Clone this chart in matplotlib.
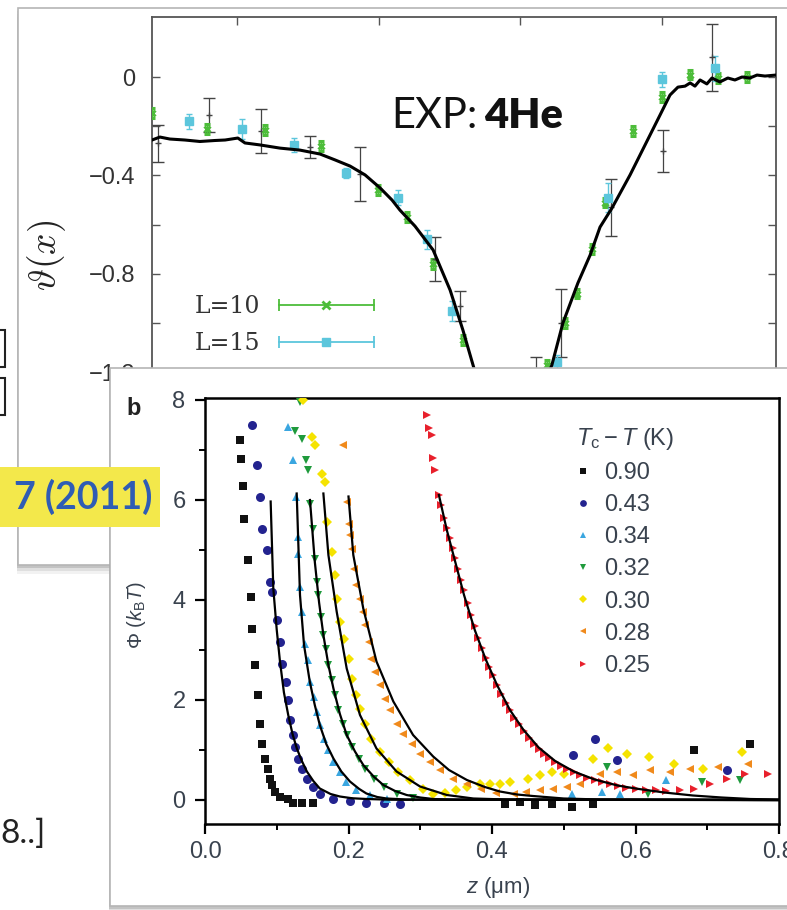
import matplotlib
matplotlib.use("Agg")
import matplotlib.pyplot as plt
from matplotlib.patches import Rectangle
from matplotlib.lines import Line2D
from matplotlib.legend_handler import HandlerLine2D

W, H = 787, 910

# ---------------- top panel: scaling function theta(x) ----------------
curve_x = [-13.0, -12.72, -12.37, -11.84, -11.31, -10.78, -10.42, -9.97, -9.72, -9.19,
           -8.48, -7.78, -7.07, -6.54, -6.01, -5.48, -4.95, -4.53, -4.25, -3.72,
           -3.08, -2.48, -2.03, -1.60, -1.0, 0.3, 0.87, 1.11, 1.50, 2.03,
           2.46, 2.81, 3.23, 3.87, 4.40, 4.93, 5.28, 5.56, 5.81, 5.99,
           6.16, 6.34, 6.58, 6.76, 7.04, 7.32, 7.57, 7.82, 8.10, 8.35, 8.63, 9.02]
curve_y = [-0.256, -0.244, -0.252, -0.256, -0.262, -0.258, -0.256, -0.248, -0.268, -0.276,
           -0.289, -0.297, -0.313, -0.337, -0.362, -0.398, -0.451, -0.500, -0.541, -0.606,
           -0.703, -0.866, -1.028, -1.199, -1.40, -1.40, -1.240, -1.171, -1.0, -0.837,
           -0.724, -0.610, -0.533, -0.398, -0.276, -0.154, -0.073, -0.041, -0.037, -0.024,
           -0.037, -0.012, -0.028, -0.004, -0.020, -0.004, -0.012, 0.0, -0.004, 0.008, 0.004, 0.008]

l10_x = [-13.0, -11.06, -9.01, -7.04, -5.03, -4.0, -3.08, -2.03, 0.94, 1.57,
         2.0, 2.53, 2.98, 3.97, 5.0, 5.98, 6.97, 8.0]
l10_y = [-0.146, -0.21, -0.215, -0.28, -0.46, -0.57, -0.76, -1.07, -1.17, -1.0,
         -0.88, -0.70, -0.51, -0.22, -0.08, 0.01, -0.005, 0.0]
l10_e = [0.02] * len(l10_x)

l15_x = [-11.69, -9.82, -7.99, -6.15, -4.32, -3.30, -2.41, 1.29, 3.09, 5.0, 6.87]
l15_y = [-0.18, -0.21, -0.276, -0.39, -0.49, -0.66, -0.95, -1.16, -0.49, -0.01, 0.035]
l15_e = [0.03, 0.04, 0.03, 0.02, 0.03, 0.04, 0.04, 0.03, 0.06, 0.03, 0.05]

l20_x = [-12.79, -10.99, -9.15, -7.42, -5.66, -3.01, -2.13, 0.55, 1.43, 3.20, 5.03, 6.76]
l20_y = [-0.27, -0.155, -0.22, -0.285, -0.395, -0.74, -0.93, -1.20, -1.0, -0.53, -0.30, 0.08]
l20_e = [0.075, 0.07, 0.09, 0.045, 0.11, 0.09, 0.06, 0.06, 0.14, 0.115, 0.085, 0.135]

# ---------------- bottom panel: Casimir potential ----------------
labels_b = ["0.90", "0.43", "0.34", "0.32", "0.30", "0.28", "0.25"]
colors_b = ["#111111", "#23238f", "#3aa6e0", "#1f9a3c", "#f5e300", "#f08a1c", "#e8202c"]
markers_b = ["s", "o", "^", "v", "D", "<", ">"]

z090 = [0.049, 0.050, 0.053, 0.055, 0.060, 0.064, 0.065, 0.070, 0.074, 0.077, 0.079, 0.084,
        0.088, 0.091, 0.093, 0.098, 0.105, 0.116, 0.122, 0.135, 0.150, 0.418, 0.439, 0.460,
        0.483, 0.511, 0.541, 0.681, 0.760]
p090 = [7.2, 6.83, 6.29, 5.63, 4.8, 4.07, 3.43, 2.71, 2.1, 1.53, 1.13, 0.83,
        0.63, 0.43, 0.3, 0.17, 0.07, 0.03, -0.06, -0.06, -0.05, -0.07, -0.03, -0.1,
        -0.07, -0.13, -0.07, 1.01, 1.12]

z043 = [0.066, 0.073, 0.076, 0.080, 0.087, 0.091, 0.094, 0.100, 0.105, 0.107, 0.113, 0.115,
        0.119, 0.122, 0.125, 0.130, 0.135, 0.142, 0.151, 0.160, 0.179, 0.202, 0.225, 0.249,
        0.272, 0.513, 0.544, 0.574, 0.727]
p043 = [7.5, 6.7, 6.07, 5.43, 5.0, 4.37, 4.17, 3.6, 3.17, 2.73, 2.37, 2.0,
        1.6, 1.3, 1.07, 0.83, 0.63, 0.43, 0.27, 0.13, 0.03, -0.02, -0.05, -0.05,
        -0.07, 0.9, 1.23, 0.8, 0.6]

z034 = [0.115, 0.122, 0.127, 0.129, 0.130, 0.132, 0.135, 0.139, 0.143, 0.147, 0.152, 0.156,
        0.160, 0.166, 0.172, 0.179, 0.188, 0.197, 0.211, 0.230, 0.253, 0.511, 0.553, 0.578, 0.643]
p034 = [7.47, 6.8, 6.07, 5.27, 4.93, 4.27, 3.77, 3.13, 2.8, 2.37, 2.07, 1.77,
        1.5, 1.23, 1.0, 0.77, 0.57, 0.37, 0.2, 0.1, 0.03, 0.13, 0.17, 0.13, 0.4]

z032 = [0.132, 0.125, 0.135, 0.141, 0.144, 0.146, 0.151, 0.153, 0.156, 0.158, 0.161, 0.165,
        0.169, 0.172, 0.177, 0.181, 0.186, 0.192, 0.198, 0.205, 0.214, 0.223, 0.235, 0.249,
        0.267, 0.290, 0.560, 0.618, 0.692, 0.746]
p032 = [7.97, 7.38, 7.23, 6.8, 6.6, 5.93, 5.43, 4.83, 4.37, 4.1, 3.67, 3.3,
        3.03, 2.7, 2.4, 2.1, 1.8, 1.53, 1.3, 1.07, 0.83, 0.63, 0.43, 0.27,
        0.13, 0.05, 0.67, 0.13, 0.37, 0.4]

z030 = [0.137, 0.149, 0.153, 0.163, 0.167, 0.170, 0.177, 0.181, 0.184, 0.188, 0.194, 0.200,
        0.205, 0.210, 0.216, 0.223, 0.232, 0.244, 0.256, 0.269, 0.286, 0.304, 0.318, 0.335,
        0.350, 0.365, 0.383, 0.397, 0.411, 0.425, 0.450, 0.467, 0.483, 0.500, 0.541, 0.562,
        0.588, 0.619, 0.653, 0.694, 0.748]
p030 = [8.0, 7.27, 7.1, 6.53, 6.37, 5.57, 4.97, 4.5, 4.03, 3.57, 3.23, 2.83,
        2.43, 2.1, 1.83, 1.53, 1.23, 0.97, 0.77, 0.57, 0.4, 0.23, 0.13, 0.15,
        0.2, 0.27, 0.33, 0.33, 0.33, 0.37, 0.43, 0.5, 0.57, 0.53, 0.83, 1.05,
        0.93, 0.87, 0.73, 0.63, 0.97]

z028 = [0.193, 0.198, 0.200, 0.202, 0.205, 0.208, 0.211, 0.216, 0.220, 0.223, 0.228, 0.232,
        0.237, 0.244, 0.251, 0.258, 0.267, 0.276, 0.288, 0.300, 0.314, 0.328, 0.346, 0.365,
        0.385, 0.405, 0.430, 0.448, 0.467, 0.485, 0.504, 0.523, 0.550, 0.574, 0.597, 0.620,
        0.648, 0.676, 0.715, 0.757]
p028 = [7.1, 5.97, 5.53, 5.3, 5.03, 4.63, 4.3, 4.03, 3.77, 3.5, 3.17, 2.83,
        2.57, 2.3, 2.03, 1.8, 1.53, 1.33, 1.13, 0.93, 0.77, 0.6, 0.43, 0.32,
        0.22, 0.15, 0.13, 0.17, 0.2, 0.23, 0.27, 0.33, 0.53, 0.57, 0.5, 0.6,
        0.57, 0.63, 0.67, 0.72]

z025 = [0.309, 0.312, 0.317, 0.318, 0.321, 0.326, 0.329, 0.333, 0.337, 0.341, 0.345, 0.349,
        0.353, 0.357, 0.361, 0.366, 0.371, 0.376, 0.381, 0.386, 0.391, 0.396, 0.401, 0.407,
        0.413, 0.419, 0.425, 0.431, 0.437, 0.444, 0.451, 0.458, 0.465, 0.472, 0.480, 0.488,
        0.496, 0.505, 0.514, 0.523, 0.533, 0.543, 0.553, 0.564, 0.575, 0.587, 0.600, 0.614,
        0.628, 0.643, 0.662, 0.681, 0.704, 0.727, 0.753, 0.785]
p025 = [7.7, 7.45, 7.3, 6.85, 6.6, 6.1, 5.9, 5.65, 5.45, 5.25, 5.05, 4.85,
        4.62, 4.4, 4.2, 3.95, 3.7, 3.48, 3.25, 3.05, 2.85, 2.67, 2.5, 2.3,
        2.12, 1.95, 1.8, 1.65, 1.52, 1.38, 1.25, 1.13, 1.02, 0.93, 0.84, 0.76,
        0.69, 0.62, 0.56, 0.5, 0.45, 0.4, 0.36, 0.32, 0.28, 0.25, 0.23, 0.21,
        0.2, 0.19, 0.2, 0.23, 0.32, 0.43, 0.52, 0.52]

series_z = [z090, z043, z034, z032, z030, z028, z025]
series_p = [p090, p043, p034, p032, p030, p028, p025]

# fitted curves (black lines)
fit_z = [
    [0.0915, 0.0952, 0.100, 0.1045, 0.110, 0.116, 0.122, 0.128, 0.135, 0.142, 0.151, 0.160,
     0.175, 0.188, 0.205, 0.225, 0.26, 0.8],
    [0.1278, 0.1324, 0.138, 0.146, 0.153, 0.160, 0.169, 0.179, 0.190, 0.202, 0.215, 0.225,
     0.240, 0.253, 0.28, 0.8],
    [0.1463, 0.153, 0.159, 0.165, 0.172, 0.179, 0.188, 0.1975, 0.209, 0.2206, 0.235, 0.2485,
     0.265, 0.281, 0.30, 0.318, 0.35, 0.8],
    [0.165, 0.172, 0.1835, 0.1975, 0.216, 0.239, 0.267, 0.2997, 0.337, 0.374, 0.42, 0.8],
    [0.200, 0.2067, 0.2206, 0.239, 0.2625, 0.29, 0.318, 0.34, 0.365, 0.39, 0.411, 0.435,
     0.457, 0.50, 0.55, 0.8],
    [0.326, 0.337, 0.349, 0.361, 0.376, 0.391, 0.407, 0.425, 0.444, 0.465, 0.488, 0.514,
     0.543, 0.575, 0.60, 0.64, 0.68, 0.72, 0.76, 0.80],
]
fit_p = [
    [5.97, 4.23, 3.4, 2.77, 2.15, 1.7, 1.32, 1.03, 0.78, 0.57, 0.38, 0.23,
     0.12, 0.07, 0.035, 0.02, 0.005, 0.0],
    [6.13, 4.1, 3.1, 2.37, 1.9, 1.5, 1.12, 0.83, 0.57, 0.37, 0.22, 0.13,
     0.06, 0.03, 0.01, 0.0],
    [6.0, 4.77, 3.95, 3.3, 2.7, 2.23, 1.72, 1.3, 0.97, 0.7, 0.47, 0.3,
     0.18, 0.1, 0.05, 0.02, 0.005, 0.0],
    [6.13, 4.9, 3.77, 2.63, 1.7, 1.03, 0.57, 0.27, 0.1, 0.03, 0.01, 0.0],
    [6.07, 4.9, 3.83, 2.77, 1.97, 1.3, 0.87, 0.6, 0.4, 0.26, 0.17, 0.11,
     0.08, 0.03, 0.01, 0.0],
    [6.1, 5.4, 4.75, 4.1, 3.4, 2.82, 2.3, 1.8, 1.4, 1.05, 0.78, 0.57,
     0.41, 0.29, 0.23, 0.15, 0.09, 0.05, 0.02, 0.01],
]


def fbox(l, t, r, b):
    return [l / W, 1 - b / H, (r - l) / W, (b - t) / H]


def fxy(x, y):
    return x / W, 1 - y / H


plt.rcParams["font.family"] = ["Liberation Sans", "DejaVu Sans"]
plt.rcParams["mathtext.fontset"] = "custom"
plt.rcParams["mathtext.rm"] = "Liberation Sans"
plt.rcParams["mathtext.it"] = "Liberation Sans:italic"
plt.rcParams["mathtext.bf"] = "Liberation Sans:bold"

fig = plt.figure(figsize=(W / 100, H / 100), dpi=100, facecolor="white")


def card(l, t, r, b, z):
    for off, a in [(9, 0.05), (6, 0.08), (3, 0.12)]:
        x0, y0 = fxy(l - 1, b + off)
        fig.add_artist(Rectangle((x0, y0), (r - l + 2) / W, (b - t) / H,
                                 transform=fig.transFigure, facecolor="black",
                                 alpha=a, lw=0, zorder=z - 0.05))
    x0, y0 = fxy(l, b)
    fig.add_artist(Rectangle((x0, y0), (r - l) / W, (b - t) / H,
                             transform=fig.transFigure, facecolor="white",
                             edgecolor="#b5b5b5", lw=1.2, zorder=z))


# ---------------- top card ----------------
card(18, 8, 830, 565, 0.6)

ax1 = fig.add_axes(fbox(152, 17, 776, 419), zorder=1)
ax1.patch.set_visible(False)
green, cyan = "#4dbd3a", "#5cc6dc"
ax1.plot(curve_x, curve_y, color="black", lw=2.2, zorder=4)
ax1.errorbar(l20_x, l20_y, yerr=l20_e, fmt="+", color="#444444", ms=5, mew=1,
             elinewidth=0.9, capsize=4, zorder=3)
ax1.errorbar(l10_x, l10_y, yerr=l10_e, fmt="x", color=green, ms=5, mew=2.2,
             elinewidth=1, capsize=2, zorder=3)
ax1.errorbar(l15_x, l15_y, yerr=l15_e, fmt="s", color=cyan, ms=6,
             elinewidth=1, capsize=2, zorder=3)
ax1.set_xlim(-13, 9.02)
ax1.set_ylim(-1.39, 0.244)
ax1.set_xticks([-10, -5, 0, 5])
ax1.set_yticks([0, -0.4, -0.8, -1.2])
ax1.set_yticklabels(["0", "\u22120.4", "\u22120.8", "\u22121.2"])
ax1.set_yticks([-0.2, -0.6, -1.0], minor=True)
ax1.tick_params(which="both", direction="in", top=True, right=True, length=6,
                width=1, color="#555555", labelsize=17, labelcolor="#333333",
                pad=12, labelbottom=False)
for s in ax1.spines.values():
    s.set_color("#555555")
    s.set_linewidth(1.3)

cap_h, mk_h = [], []
for c, m in [(green, "x"), (cyan, "s"), ("#444444", "+")]:
    cap_h.append(Line2D([], [], color=c, lw=1.3, marker="|", ms=9, mew=1.3))
    mk_h.append(Line2D([], [], color=c, marker=m, ls="none", ms=6,
                       mew=2 if m == "x" else 1))
hmap = {}
for a, b in zip(cap_h, mk_h):
    hmap[a] = HandlerLine2D(numpoints=2, marker_pad=0)
    hmap[b] = HandlerLine2D(numpoints=1)
ax1.legend(list(zip(cap_h, mk_h)), ["L=10", "L=15", "L=20"], handler_map=hmap,
           markerfirst=False, frameon=False, loc="upper left",
           bbox_to_anchor=fxy(183, 283), bbox_transform=fig.transFigure,
           prop={"family": "DejaVu Serif", "size": 17}, labelcolor="#333333",
           handlelength=4.0, handletextpad=0.8, labelspacing=0.62, borderpad=0)

fig.text(*fxy(47, 255), r"$\vartheta(x)$", math_fontfamily="cm", fontsize=27,
         rotation=90, ha="center", va="center", color="#222222", zorder=1.5)
fig.text(*fxy(478, 128), "EXP:", family="Lato", fontsize=30, ha="right",
         va="baseline", color="#111111", zorder=1.5)
fig.text(*fxy(484, 128), "4He", family="Lato", weight="heavy", fontsize=30,
         ha="left", va="baseline", color="#111111", zorder=1.5)

# bits of the slide behind the panels
for t, b in [(330, 367), (378, 415)]:
    x0, y0 = fxy(-20, b)
    fig.add_artist(Rectangle((x0, y0), 25 / W, (b - t) / H, transform=fig.transFigure,
                             facecolor="none", edgecolor="#222222", lw=1.5, zorder=0.3))
fig.text(*fxy(0, 834), "8..]", family="Lato", fontsize=24, ha="left", va="center",
         color="#222222", zorder=0.3)

# ---------------- bottom card ----------------
card(110, 368, 830, 906, 2.1)

ax2 = fig.add_axes(fbox(205, 398, 779, 824), zorder=3)
ax2.patch.set_visible(False)
for zf, pf in zip(fit_z, fit_p):
    ax2.plot(zf, pf, color="black", lw=1.6, zorder=4)
for zs, ps, c, m, lab in zip(series_z, series_p, colors_b, markers_b, labels_b):
    ms = 6.5 if m in "o" else 5.5
    ax2.plot(zs, ps, ls="none", marker=m, color=c, ms=ms, mew=0, label=lab, zorder=3)
ax2.set_xlim(0, 0.8)
ax2.set_ylim(-0.48, 8.04)
ax2.set_xticks([0, 0.2, 0.4, 0.6, 0.8])
ax2.set_xticklabels(["0.0", "0.2", "0.4", "0.6", "0.8"])
ax2.set_xticks([0.1, 0.3, 0.5, 0.7], minor=True)
ax2.set_yticks([0, 2, 4, 6, 8])
ax2.set_yticks([1, 3, 5, 7], minor=True)
ax2.tick_params(which="major", direction="out", length=7, width=1.6,
                labelsize=17, labelcolor="#39424e", pad=5)
ax2.tick_params(which="minor", direction="out", length=4, width=1.4)
ax2.tick_params(axis="y", which="major", pad=7)
for s in ax2.spines.values():
    s.set_linewidth(1.8)
leg = ax2.legend(title=r"$T_{\mathrm{c}} - T$ (K)", loc="upper left",
                 bbox_to_anchor=fxy(564, 414), bbox_transform=fig.transFigure,
                 frameon=False, fontsize=17, title_fontsize=17, markerscale=0.75,
                 handlelength=0.6, handletextpad=0.6, labelspacing=0.43,
                 borderpad=0, alignment="left", labelcolor="#39424e")
leg.get_title().set_color("#39424e")

fig.text(*fxy(498, 887), r"$z$ ($\mathrm{\mu}$m)", fontsize=16, ha="center", va="center",
         color="#39424e", zorder=3.5)
fig.text(*fxy(137, 615), r"$\mathit{\Phi}$ ($k_{\mathrm{B}}T$)", fontsize=14.5,
         rotation=90, ha="center", va="center", color="#39424e", zorder=3.5)
fig.text(*fxy(134, 409), "b", fontsize=17, weight="bold", ha="center", va="center",
         color="#222222", zorder=3.5)

# yellow highlighted citation
x0, y0 = fxy(0, 527)
fig.add_artist(Rectangle((x0, y0), 160 / W, 60 / H, transform=fig.transFigure,
                         facecolor="#f3e84b", lw=0, zorder=4))
fig.text(*fxy(152, 497), "7 (2011)", family="Lato", weight="bold", fontsize=27,
         ha="right", va="center", color="#2f5cb4", zorder=4.1)

fig.savefig("out.png", dpi=100, facecolor="white")
